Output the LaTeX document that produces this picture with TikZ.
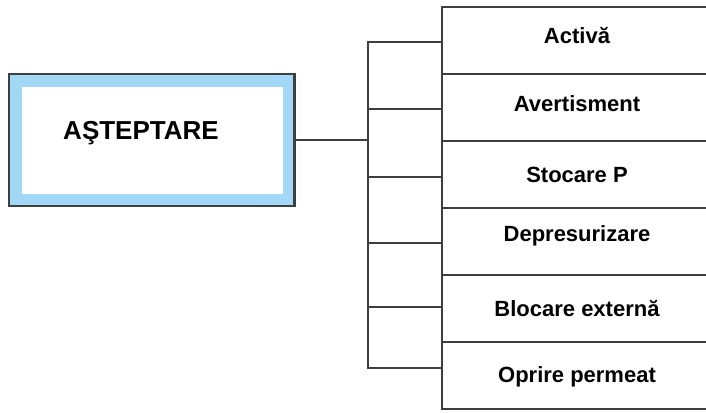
\documentclass[tikz,border=0pt]{standalone}
\usepackage{fontspec}
\setmainfont{Liberation Sans}
\usepackage{tikz}
\usetikzlibrary{positioning}
\definecolor{waitblue}{RGB}{162,216,245}
\definecolor{linegray}{RGB}{62,62,62}
\tikzset{%
  wait outer/.style={
    rectangle,
    draw=linegray,
    fill=waitblue,
    line width=2pt,
    minimum width=214pt,
    minimum height=99pt,
    inner sep=0pt
  },
  wait inner/.style={
    rectangle,
    fill=white,
    minimum width=195.75pt,
    minimum height=80.25pt,
    inner sep=0pt
  },
  wait text/.style={
    font=\fontsize{19.5}{21}\selectfont\bfseries,
    text height=14pt,
    text depth=0pt,
    inner sep=0pt
  },
  mode box/.style={
    rectangle,
    draw=linegray,
    line width=1.5pt,
    minimum width=240pt,
    minimum height=50.25pt,
    inner sep=0pt
  },
  mode text/.style={
    font=\fontsize{16.5}{18}\selectfont\bfseries,
    text height=11.8pt,
    inner sep=0pt
  },
  tree line/.style={
    draw=linegray,
    line width=1.5pt
  },
}

\begin{document}
\begin{tikzpicture}[x=0.75pt, y=-0.75pt]
\useasboundingbox (0,0) rectangle (706,412);
\clip (0,0) rectangle (706,412);
    % left box
    \node[wait outer] (wait) at (151.5,140){};
    \node[wait inner] (waitin) at (152.5,140.5){};
    \node[wait text] (waitlabel) at (141,130) {AŞTEPTARE};

    % stacked modes (right side runs off the page)
    \foreach \i/\t/\d in {0/Activă/7.5pt, 1/Avertisment/6pt, 2/Stocare P/0pt,
                          3/Depresurizare/12pt, 4/Blocare externă/0pt, 5/Oprire permeat/1.5pt}
    {
        \node[mode box] (mode_\i) at (602,40.5+67*\i) {};
        \node[mode text, text depth=\d] (label_\i) at (577,40.5+67*\i) {\t};
    }

    % bus
    \foreach \i/\y in {0/42,1/109,2/177,3/243,4/307,5/368}
        \coordinate (tap_\i) at (368,\y);
    \draw[tree line] (tap_0 -| mode_0.west) -- (tap_0) -- (tap_5) -- (tap_5 -| mode_5.west);
    \foreach \i in {1,2,3,4}
        \draw[tree line] (tap_\i) -- (tap_\i -| mode_\i.west);
    \draw[tree line] (wait.east) -- (wait.east -| tap_0);
\end{tikzpicture}
\end{document}
